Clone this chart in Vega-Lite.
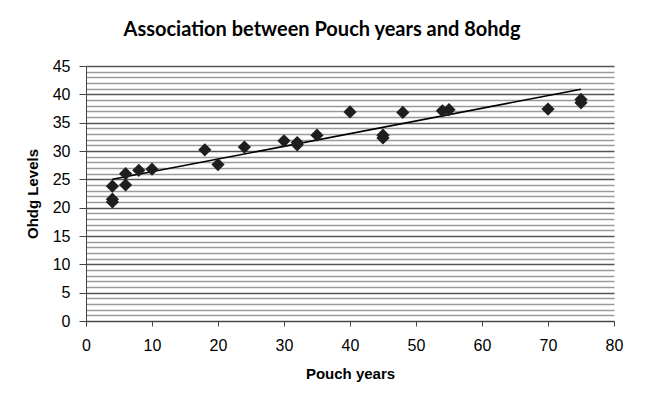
{
  "$schema": "https://vega.github.io/schema/vega-lite/v6.json",
  "width": 528,
  "height": 255,
  "autosize": {"type": "none"},
  "padding": {"left": 86, "top": 66, "right": 31, "bottom": 88},
  "background": "white",
  "title": {
    "text": "Association between Pouch years and 8ohdg",
    "font": "Lato",
    "fontSize": 20,
    "fontWeight": "bold",
    "color": "#000000",
    "anchor": "middle",
    "dx": -28,
    "offset": 18
  },
  "config": {"view": {"stroke": null}},
  "datasets": {
    "points": [
      {"pouch_years": 4, "ohdg": 23.8},
      {"pouch_years": 4, "ohdg": 21.5},
      {"pouch_years": 4, "ohdg": 21.0},
      {"pouch_years": 6, "ohdg": 26.0},
      {"pouch_years": 6, "ohdg": 24.0},
      {"pouch_years": 8, "ohdg": 26.6},
      {"pouch_years": 10, "ohdg": 26.8},
      {"pouch_years": 18, "ohdg": 30.2},
      {"pouch_years": 20, "ohdg": 27.6},
      {"pouch_years": 24, "ohdg": 30.7},
      {"pouch_years": 30, "ohdg": 31.8},
      {"pouch_years": 32, "ohdg": 31.5},
      {"pouch_years": 32, "ohdg": 31.1},
      {"pouch_years": 35, "ohdg": 32.8},
      {"pouch_years": 40, "ohdg": 36.9},
      {"pouch_years": 45, "ohdg": 32.8},
      {"pouch_years": 45, "ohdg": 32.3},
      {"pouch_years": 48, "ohdg": 36.8},
      {"pouch_years": 54, "ohdg": 37.1},
      {"pouch_years": 55, "ohdg": 37.3},
      {"pouch_years": 70, "ohdg": 37.4},
      {"pouch_years": 75, "ohdg": 39.1},
      {"pouch_years": 75, "ohdg": 38.5}
    ],
    "trend": [
      {"pouch_years": 4, "ohdg": 25.0},
      {"pouch_years": 75, "ohdg": 40.9}
    ]
  },
  "layer": [
    {
      "data": {"name": "trend"},
      "mark": {"type": "line", "color": "#000000", "strokeWidth": 1.6},
      "encoding": {
        "x": {"field": "pouch_years", "type": "quantitative", "scale": {"domain": [0, 80], "nice": false},
          "axis": {
            "title": "Pouch years",
            "values": [0, 10, 20, 30, 40, 50, 60, 70, 80],
            "tickCount": 20,
            "format": "d",
            "grid": false,
            "domainColor": "#444444",
            "tickColor": "#444444",
            "tickSize": 5,
            "labelFont": "Liberation Sans",
            "labelFontSize": 16,
            "labelColor": "#000000",
            "labelPadding": 11,
            "labelFlush": false,
            "titleFont": "Liberation Sans",
            "titleFontSize": 15,
            "titleFontWeight": "bold",
            "titleColor": "#000000",
            "titlePadding": 13
          }
        },
        "y": {"field": "ohdg", "type": "quantitative", "scale": {"domain": [0, 45], "nice": false},
          "axis": {
            "title": "Ohdg Levels",
            "values": [0,1,2,3,4,5,6,7,8,9,10,11,12,13,14,15,16,17,18,19,20,21,22,23,24,25,26,27,28,29,30,31,32,33,34,35,36,37,38,39,40,41,42,43,44,45],
            "tickCount": 100,
            "format": "d",
            "labelExpr": "datum.value % 5 === 0 ? datum.label : ''",
            "labelOverlap": false,
            "labelFlush": false,
            "grid": true,
            "gridColor": {"condition": {"test": "datum.value % 5 === 0", "value": "#555555"}, "value": "#9a9a9a"},
            "gridWidth": 1.3,
            "domainColor": "#444444",
            "tickColor": "#444444",
            "tickOpacity": {"condition": {"test": "datum.value % 5 === 0", "value": 1}, "value": 0},
            "tickSize": 7,
            "labelFont": "Liberation Sans",
            "labelFontSize": 16,
            "labelColor": "#000000",
            "labelPadding": 9,
            "titleFont": "Liberation Sans",
            "titleFontSize": 15,
            "titleFontWeight": "bold",
            "titleColor": "#000000",
            "titlePadding": 12
          }
        }
      }
    },
    {
      "data": {"name": "points"},
      "mark": {"type": "point", "shape": "diamond", "filled": true, "size": 175, "color": "#1e1e1e", "opacity": 1},
      "encoding": {
        "x": {"field": "pouch_years", "type": "quantitative"},
        "y": {"field": "ohdg", "type": "quantitative"}
      }
    }
  ]
}
